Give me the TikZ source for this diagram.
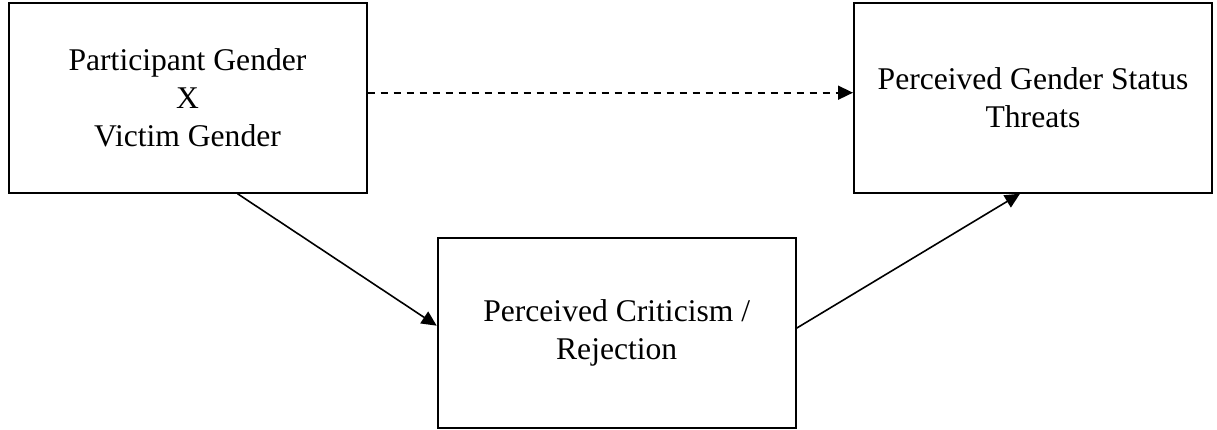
\documentclass[tikz,border=0pt]{standalone}
\usepackage{fontspec}
\setmainfont{Liberation Serif}
\usepackage{tikz}
\usetikzlibrary{arrows.meta}

\begin{document}
\begin{tikzpicture}[x=0.5pt, y=-0.5pt,
	varbox/.style={shape=rectangle, draw=black, line width=1pt, minimum width=179pt, minimum height=95pt, align=center, inner sep=0pt, font=\fontsize{15.8}{19}\selectfont},
	link/.style={-{Triangle[length=7.5pt,width=7pt]}, line width=0.8pt}]
	
	\useasboundingbox (0,0) rectangle (1217,429);
	
	\node[varbox] (pg) at (187.5, 97.7)    {Participant Gender\\X\\Victim Gender};
	
	\node[varbox] (threat) at (1033, 97.7)   {Perceived Gender Status\\Threats};
	
	\node[varbox] (crit) at (616.7, 332.7)   {Perceived Criticism /\\Rejection};

	\path[link, dash pattern=on 3.5pt off 3pt] ([yshift=2.5pt]pg.east) edge ([yshift=2.5pt]threat.west);
	\path[link] ([xshift=25pt]pg.south) edge ([yshift=3.5pt]crit.west);
	\path[link] ([yshift=2.3pt]crit.east) edge ([xshift=-6.5pt]threat.south);

\end{tikzpicture}
\end{document}
